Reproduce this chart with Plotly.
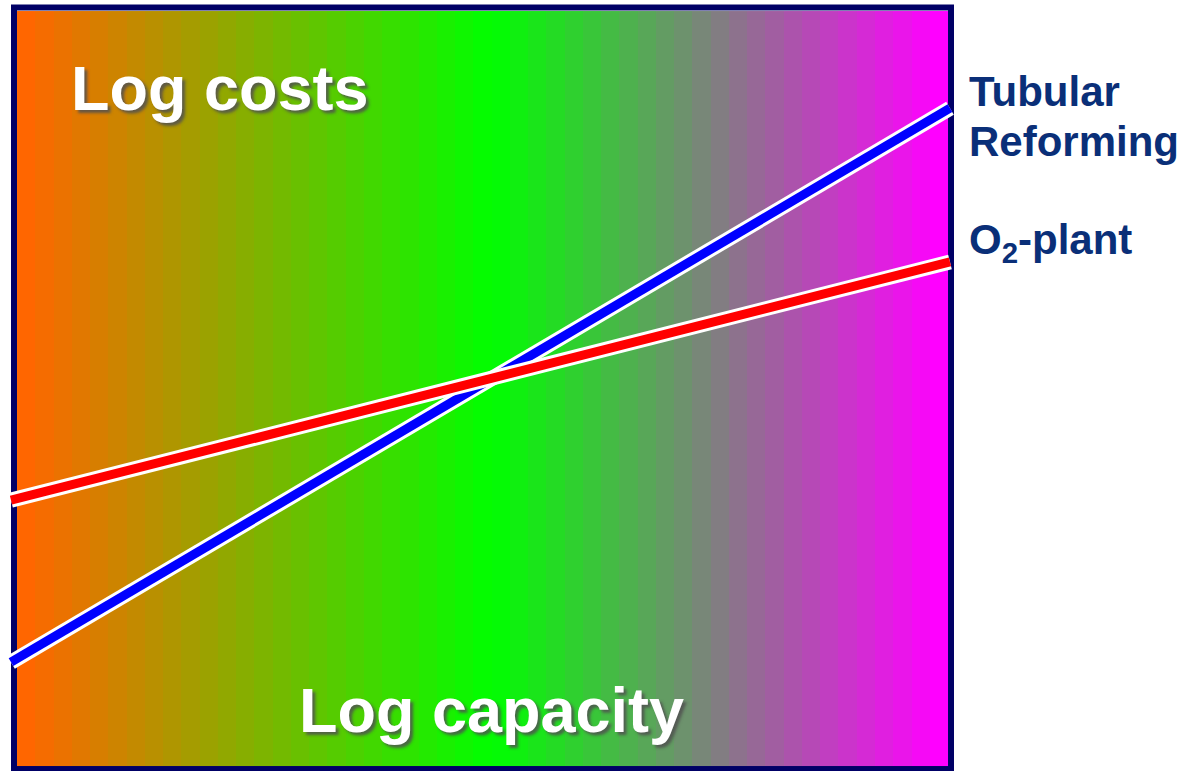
import numpy as np
import plotly.graph_objects as go

# Canvas size in pixels
W, H = 1190, 771

# Log capacity (x) and log costs (y) at the two ends of each cost line
capacity = [0.0, 1.0]
tubular_cost = [0.139, 0.867]
o2_cost = [0.352, 0.665]

# Background gradient colours across the capacity axis
grad_colors = ["#FF6600", "#00FF00", "#FF00FF"]
n_bands = 51

BORDER = "#000066"
LABEL = "#0A2F78"
FONT = "Liberation Sans, Arial, sans-serif"

fig = go.Figure()

# Banded colour gradient filling the frame
x_edges = np.linspace(0.0064, 0.9979, n_bands + 1)
fig.add_trace(go.Heatmap(
    x=x_edges, y=[0.0026, 0.9947],
    z=[np.linspace(0, 1, n_bands)],
    colorscale=[[0, grad_colors[0]], [0.51, grad_colors[1]], [1, grad_colors[2]]],
    zsmooth=False, showscale=False, hoverinfo="skip",
))

# Cost lines with a white outline underneath
for cost, color in [(tubular_cost, "#0000FF"), (o2_cost, "#FF0000")]:
    fig.add_trace(go.Scatter(x=capacity, y=cost, mode="lines",
                             line=dict(color="white", width=15),
                             hoverinfo="skip", showlegend=False))
    fig.add_trace(go.Scatter(x=capacity, y=cost, mode="lines",
                             line=dict(color=color, width=9),
                             hoverinfo="skip", showlegend=False))

# Frame around the plot area
fig.add_shape(type="rect", xref="paper", yref="paper",
              x0=14 / W, x1=951 / W, y0=1 - 769 / H, y1=1 - 7.5 / H,
              line=dict(color=BORDER, width=6), layer="below")


def px(xp, yp):
    return xp / W, 1 - yp / H


shadow = "3px 3px 3px rgba(80,80,80,0.85)"
for text, (xp, yp) in [("Log costs", (220, 88)), ("Log capacity", (491, 710))]:
    x, y = px(xp, yp)
    fig.add_annotation(x=x, y=y, xref="paper", yref="paper", text=text,
                       showarrow=False, xanchor="center", yanchor="middle",
                       font=dict(family=FONT, size=63, color="white",
                                 weight="bold", shadow=shadow))

for text, (xp, yp) in [("Tubular", (967, 91)), ("Reforming", (967, 141)),
                       ("O<sub>2</sub>-plant", (967, 242))]:
    x, y = px(xp, yp)
    fig.add_annotation(x=x, y=y, xref="paper", yref="paper", text=text,
                       showarrow=False, xanchor="left", yanchor="middle",
                       font=dict(family=FONT, size=42, color=LABEL, weight="bold"))

fig.update_layout(
    width=W, height=H,
    margin=dict(l=0, r=0, t=0, b=0),
    paper_bgcolor="white", plot_bgcolor="white",
    showlegend=False,
    xaxis=dict(range=[-11 / 939, 1179 / 939], visible=False, fixedrange=True),
    yaxis=dict(range=[-3 / 761, 768 / 761], visible=False, fixedrange=True),
)

fig.write_html("out.html")
